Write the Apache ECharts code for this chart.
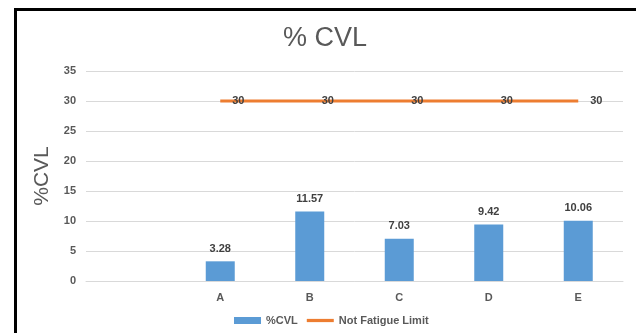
<!DOCTYPE html>
<html>
<head>
<meta charset="utf-8">
<script src="https://cdn.jsdelivr.net/npm/echarts@6/dist/echarts.min.js"></script>
<style>
  html, body { margin: 0; padding: 0; background: #fff; }
  #frame { position: absolute; left: 14px; top: 8px; width: 622px; height: 325px;
           border-left: 3px solid #000; border-top: 3px solid #000; box-sizing: border-box; }
  #chart { position: absolute; left: 0; top: 0; width: 636px; height: 333px; }
</style>
</head>
<body>
<div id="frame"></div>
<div id="chart"></div>
<script>
// first slot is left empty in the original chart
var categories = ['', 'A', 'B', 'C', 'D', 'E']
var cvl = [null, 3.28, 11.57, 7.03, 9.42, 10.06]
var fatigueLimit = [null, 30, 30, 30, 30, 30]
var yTicks = { min: 0, max: 35, step: 5 }

var textColor = '#595959'
var font = 'Liberation Sans'

var chart = echarts.init(document.getElementById('chart'))
chart.setOption({
  animation: false,
  backgroundColor: 'transparent',
  title: {
    text: '% CVL',
    left: 278,
    top: 20,
    textStyle: { color: textColor, fontSize: 27, fontWeight: 'normal', fontFamily: font }
  },
  grid: { left: 86, right: 13, top: 71, bottom: 52 },
  legend: {
    bottom: 2,
    left: 229,
    itemGap: 9,
    itemWidth: 27,
    itemHeight: 7,
    textStyle: { color: textColor, fontSize: 11, fontWeight: 'bold', fontFamily: font },
    data: [
      { name: '%CVL', icon: 'rect' },
      { name: 'Not Fatigue Limit', icon: 'path://M0,0H10V1.2H0Z' }
    ]
  },
  xAxis: {
    type: 'category',
    data: categories,
    axisLine: { lineStyle: { color: '#D9D9D9' } },
    axisTick: { show: false },
    axisLabel: { color: textColor, fontSize: 11, fontWeight: 'bold', fontFamily: font, margin: 11 }
  },
  yAxis: {
    type: 'value',
    min: yTicks.min,
    max: yTicks.max,
    interval: yTicks.step,
    name: '%CVL',
    nameLocation: 'middle',
    nameGap: 33,
    nameTextStyle: { color: textColor, fontSize: 21, fontFamily: font },
    axisLine: { show: false },
    axisTick: { show: false },
    splitLine: { lineStyle: { color: '#D9D9D9' } },
    axisLabel: { color: textColor, fontSize: 11, fontWeight: 'bold', fontFamily: font, margin: 10 }
  },
  series: [
    {
      name: '%CVL',
      type: 'bar',
      data: cvl,
      barWidth: 29,
      itemStyle: { color: '#5B9BD5' },
      label: {
        show: true,
        position: 'top',
        distance: 7,
        color: '#404040',
        fontSize: 11,
        fontWeight: 'bold',
        fontFamily: font
      }
    },
    {
      name: 'Not Fatigue Limit',
      type: 'line',
      data: fatigueLimit,
      showSymbol: true,
      symbol: 'circle',
      symbolSize: 0,
      lineStyle: { color: '#ED7D31', width: 3 },
      itemStyle: { color: '#ED7D31' },
      label: {
        show: true,
        position: 'right',
        distance: 12,
        color: '#404040',
        fontSize: 11,
        fontWeight: 'bold',
        fontFamily: font
      }
    }
  ]
})
</script>
</body>
</html>
